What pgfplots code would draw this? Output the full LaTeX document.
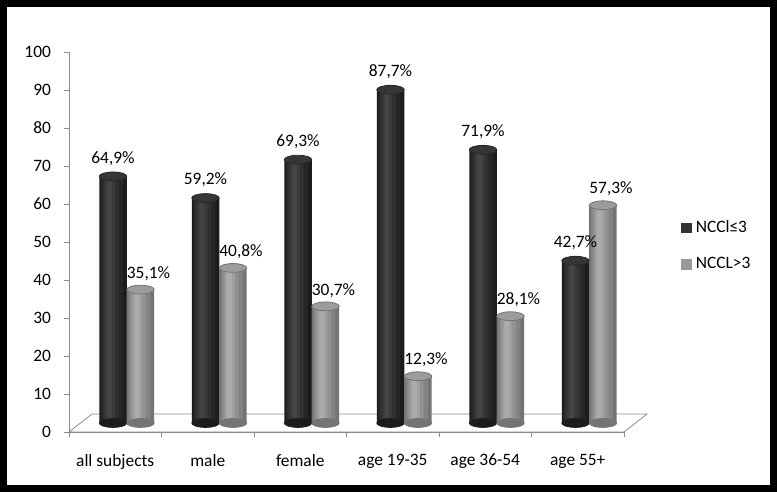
\documentclass[border=0pt]{standalone}
\usepackage{fontspec}
\setmainfont{Carlito}
\usepackage{pgfplots}
\usepackage{pgfplotstable}
\pgfplotsset{compat=1.18}
\definecolor{axisgray}{HTML}{8C8C8C}
\definecolor{dk1}{HTML}{1C1C1C}
\definecolor{dk2}{HTML}{262626}
\definecolor{dk3}{HTML}{303030}
\definecolor{dk4}{HTML}{3A3A3A}
\definecolor{dk5}{HTML}{444444}
\definecolor{darkcap}{HTML}{363636}
\definecolor{lt1}{HTML}{747474}
\definecolor{lt2}{HTML}{838383}
\definecolor{lt3}{HTML}{919191}
\definecolor{lt4}{HTML}{9F9F9F}
\definecolor{lt5}{HTML}{ABABAB}
\definecolor{lightcap}{HTML}{9C9C9C}
\definecolor{legdark}{HTML}{333333}
\definecolor{leglight}{HTML}{999999}

% elliptic cap for the cylinders
\pgfdeclareplotmark{cylcap}{%
  \pgfpathellipse{\pgfpointorigin}{\pgfqpoint{6.875pt}{0pt}}{\pgfqpoint{0pt}{2.2pt}}%
  \pgfusepathqfillstroke}

\pgfplotstableread{
cat lo hi
{all subjects} 64.9 35.1
male 59.2 40.8
female 69.3 30.7
{age 19-35} 87.7 12.3
{age 36-54} 71.9 28.1
{age 55+} 42.7 57.3
}\datatable

\newcommand{\chartfont}{\fontsize{8.7pt}{10pt}\selectfont}
\pgfplotsset{
  cyl/.style n args={3}{ybar,bar width=#1,bar shift=#2,draw=none,fill=#3},
  pct/.style={nodes near coords={\pgfmathprintnumber[fixed,fixed zerofill,precision=1,use comma]{\pgfplotspointmeta}\%}}
}

\begin{document}
\begin{tikzpicture}
\fill[black] (0,0) rectangle (388.5pt,246pt);
\fill[white] (3.5pt,3.5pt) rectangle (385pt,242.5pt);

% front axis: ticks, labels and floor
\begin{axis}[at={(34.5pt,30pt)},anchor=south west,scale only axis,
 width=277.5pt,height=190pt,xmin=0,xmax=6,ymin=0,ymax=100,enlargelimits=false,
 axis lines=left,axis line style={-,axisgray},
 ytick={0,10,...,100},xtick={0,...,6},x tick label as interval,
 xticklabels from table={\datatable}{cat},
 tick align=outside,major tick length=2.5pt,tick style={axisgray},
 tick label style={font=\chartfont},
 yticklabel style={xshift=-3pt},
 xticklabel style={yshift=-5pt},
 /pgf/number format/assume math mode=true,clip=false]
 \draw[axisgray] (axis cs:0,0) -- (axis cs:6,0)
   -- ([shift={(11.5pt,9pt)}]axis cs:6,0) -- ([shift={(11.5pt,9pt)}]axis cs:0,0) -- cycle;
\end{axis}

% cylinders, half way into the floor
\begin{axis}[at={(40.25pt,34.5pt)},anchor=south west,scale only axis,
 width=277.5pt,height=190pt,xmin=0,xmax=6,ymin=0,ymax=100,enlargelimits=false,
 hide axis,clip=false,
 /pgf/number format/assume math mode=true,
 legend style={at={(axis description cs:1.082,0.466)},anchor=west,draw=none,fill=none,
   font=\chartfont,row sep=7pt,inner sep=0pt,nodes={inner sep=2pt}},
 legend cell align=left]
 % dark series
 \addplot[only marks,mark=cylcap,mark options={fill=dk1,draw=dk1},forget plot]
   table[x expr=\coordindex+0.3514,y expr=0]{\datatable};
 \addplot[cyl={13.75pt}{0pt}{dk1},
   legend image code/.code={\fill[legdark] (0pt,-2.6pt) rectangle (5.2pt,2.6pt);}]
   table[x expr=\coordindex+0.3514,y=lo]{\datatable};
 \addlegendentry{NCCl≤3}
 \addplot[cyl={11pt}{-0.6pt}{dk2},forget plot] table[x expr=\coordindex+0.3514,y=lo]{\datatable};
 \addplot[cyl={8pt}{-1.2pt}{dk3},forget plot] table[x expr=\coordindex+0.3514,y=lo]{\datatable};
 \addplot[cyl={5pt}{-1.6pt}{dk4},forget plot] table[x expr=\coordindex+0.3514,y=lo]{\datatable};
 \addplot[cyl={2.4pt}{-1.8pt}{dk5},forget plot] table[x expr=\coordindex+0.3514,y=lo]{\datatable};
 \addplot[only marks,mark=cylcap,mark options={fill=darkcap,draw=dk2},forget plot,pct,
   nodes near coords style={font=\chartfont,anchor=south,yshift=2pt,text=black}]
   table[x expr=\coordindex+0.3514,y=lo]{\datatable};
 % light series
 \addplot[only marks,mark=cylcap,mark options={fill=lt1,draw=lt1},forget plot]
   table[x expr=\coordindex+0.6486,y expr=0]{\datatable};
 \addplot[cyl={13.75pt}{0pt}{lt1},
   legend image code/.code={\fill[leglight] (0pt,-2.6pt) rectangle (5.2pt,2.6pt);}]
   table[x expr=\coordindex+0.6486,y=hi]{\datatable};
 \addlegendentry{NCCL>3}
 \addplot[cyl={11pt}{-0.6pt}{lt2},forget plot] table[x expr=\coordindex+0.6486,y=hi]{\datatable};
 \addplot[cyl={8pt}{-1.2pt}{lt3},forget plot] table[x expr=\coordindex+0.6486,y=hi]{\datatable};
 \addplot[cyl={5pt}{-1.6pt}{lt4},forget plot] table[x expr=\coordindex+0.6486,y=hi]{\datatable};
 \addplot[cyl={2.4pt}{-1.8pt}{lt5},forget plot] table[x expr=\coordindex+0.6486,y=hi]{\datatable};
 \addplot[only marks,mark=cylcap,mark options={fill=lightcap,draw=lt1},forget plot,pct,
   nodes near coords style={font=\chartfont,anchor=south,yshift=1pt,xshift=4pt,text=black}]
   table[x expr=\coordindex+0.6486,y=hi]{\datatable};
\end{axis}
\end{tikzpicture}
\end{document}
